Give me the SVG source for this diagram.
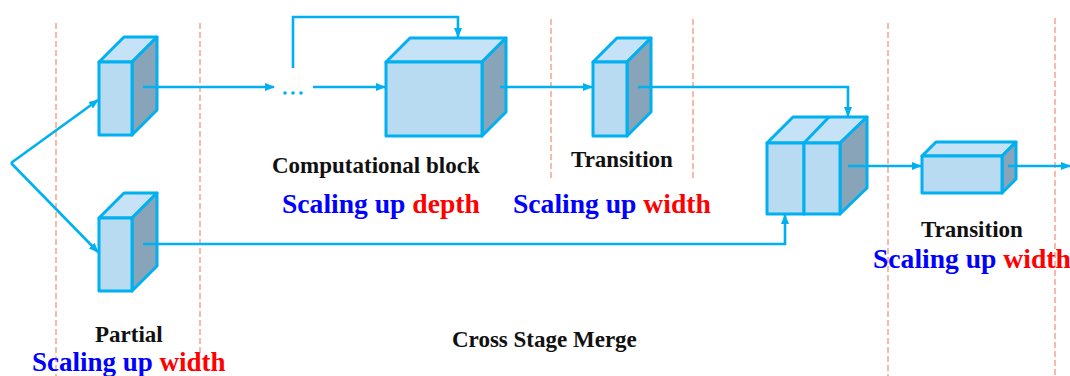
<svg xmlns="http://www.w3.org/2000/svg" width="1070" height="376" viewBox="0 0 1070 376">
<style>
.guide{stroke:#F4AA92;stroke-width:1.6;stroke-dasharray:6 3;fill:none}
.front{fill:#B8DBF2;stroke:#00B0F0;stroke-width:3;stroke-linejoin:round}
.top{fill:#C6E2F6;stroke:#00B0F0;stroke-width:3;stroke-linejoin:round}
.side{fill:#88A4B8;stroke:#00B0F0;stroke-width:3;stroke-linejoin:round}
.conn{stroke:#00B0F0;stroke-width:2.6;fill:none}
.lbl{font-family:"Liberation Serif","Times New Roman",serif;font-weight:bold;font-size:23px;fill:#111}
.big{font-family:"Liberation Serif","Times New Roman",serif;font-weight:bold;font-size:27.6px}
.b{fill:#0000FF}
.r{fill:#FF0000}
</style>
<defs>
<marker id="arr" markerUnits="userSpaceOnUse" markerWidth="10" markerHeight="10" viewBox="0 0 10 10" refX="9" refY="5" orient="auto">
<path d="M0,1 L10,5 L0,9 Z" fill="#00B0F0"/>
</marker>
</defs>

<g id="guides">
<line class="guide" x1="56" y1="23" x2="56" y2="376"/>
<line class="guide" x1="200" y1="23" x2="200" y2="356"/>
<line class="guide" x1="551" y1="19" x2="551" y2="178"/>
<line class="guide" x1="693" y1="19" x2="693" y2="178"/>
<line class="guide" x1="888" y1="23" x2="888" y2="376"/>
<line class="guide" x1="1055" y1="18" x2="1055" y2="376"/>
</g>

<g id="partial-top">
<path class="top" d="M99,62 L124,37 L157,37 L132,62 Z"/>
<path class="side" d="M132,62 L157,37 L157,110 L132,135 Z"/>
<rect class="front" x="99" y="62" width="33" height="73"/>
</g>

<g id="partial-bottom">
<path class="top" d="M99,218 L124,193 L157,193 L132,218 Z"/>
<path class="side" d="M132,218 L157,193 L157,266 L132,291 Z"/>
<rect class="front" x="99" y="218" width="33" height="73"/>
</g>

<g id="computational-block">
<path class="top" d="M386,62 L410,38 L506,38 L482,62 Z"/>
<path class="side" d="M482,62 L506,38 L506,112 L482,136 Z"/>
<rect class="front" x="386" y="62" width="96" height="74"/>
</g>

<g id="transition-1">
<path class="top" d="M593,62 L617,38 L651,38 L627,62 Z"/>
<path class="side" d="M627,62 L651,38 L651,112 L627,136 Z"/>
<rect class="front" x="593" y="62" width="34" height="74"/>
</g>

<g id="merge">
<path class="top" d="M767,143 L793,117 L867,117 L840,143 Z"/>
<path class="top" d="M804,143 L829,117" fill="none"/>
<path class="side" d="M840,143 L867,117 L867,188 L840,214 Z"/>
<rect class="front" x="767" y="143" width="37" height="71"/>
<rect class="front" x="804" y="143" width="36" height="71"/>
</g>

<g id="transition-2">
<path class="top" d="M922,156 L936,142 L1016,142 L1002,156 Z"/>
<path class="side" d="M1002,156 L1016,142 L1016,179 L1002,193 Z"/>
<rect class="front" x="922" y="156" width="80" height="37"/>
</g>

<g id="connectors">
<path class="conn" d="M11,163 L98,100" marker-end="url(#arr)"/>
<path class="conn" d="M11,163 L98,252" marker-end="url(#arr)"/>
<path class="conn" d="M143,87 L274,87" marker-end="url(#arr)"/>
<circle cx="285" cy="93" r="1.8" fill="#00B0F0"/>
<circle cx="293" cy="93" r="1.8" fill="#00B0F0"/>
<circle cx="301" cy="93" r="1.8" fill="#00B0F0"/>
<path class="conn" d="M313,87 L385,87" marker-end="url(#arr)"/>
<path class="conn" d="M293,68 L293,17 L458,17 L458,37" marker-end="url(#arr)"/>
<path class="conn" d="M500,87 L592,87" marker-end="url(#arr)"/>
<path class="conn" d="M638,87 L848,87 L848,116" marker-end="url(#arr)"/>
<path class="conn" d="M143,244 L785,244 L785,215" marker-end="url(#arr)"/>
<path class="conn" d="M848,166 L921,166" marker-end="url(#arr)"/>
<path class="conn" d="M1008,166 L1070,166" marker-end="url(#arr)"/>
</g>

<g id="labels">
<text class="lbl" x="272" y="173">Computational block</text>
<text class="big" x="282" y="213"><tspan class="b">Scaling up </tspan><tspan class="r">depth</tspan></text>
<text class="lbl" x="571" y="167">Transition</text>
<text class="big" x="513" y="213"><tspan class="b">Scaling up </tspan><tspan class="r">width</tspan></text>
<text class="lbl" x="921" y="237">Transition</text>
<text class="big" x="873" y="268"><tspan class="b">Scaling up </tspan><tspan class="r">width</tspan></text>
<text class="lbl" x="95" y="342">Partial</text>
<text class="big" x="32" y="371" style="font-size:27px"><tspan class="b">Scaling up </tspan><tspan class="r">width</tspan></text>
<text class="lbl" x="452" y="347">Cross Stage Merge</text>
</g>
</svg>
